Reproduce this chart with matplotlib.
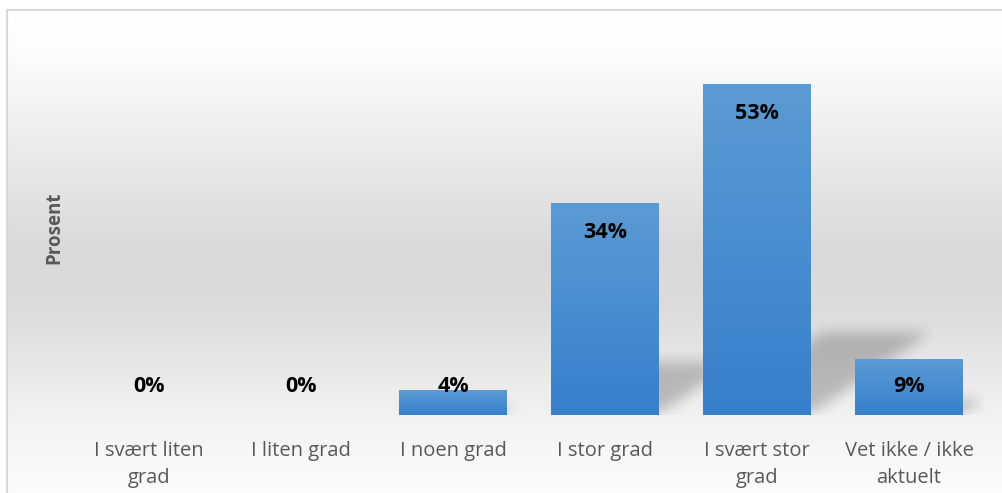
import numpy as np
import matplotlib
matplotlib.use("Agg")
import matplotlib.pyplot as plt
from matplotlib.colors import LinearSegmentedColormap

# survey answers (percent)
categories = ["I svært liten\ngrad", "I liten grad", "I noen grad", "I stor grad",
              "I svært stor\ngrad", "Vet ikke / ikke\naktuelt"]
values = [0, 0, 4, 34, 53, 9]
value_labels = ["0%", "0%", "4%", "34%", "53%", "9%"]

plt.rcParams['font.family'] = ['Open Sans', 'DejaVu Sans']

fig = plt.figure(figsize=(10.02, 4.93), dpi=100)
fig.patch.set_facecolor("white")

# chart background: white -> gray -> white gradient, with a light border
W, H = 1002, 493
bg = fig.add_axes([7 / W, 0, 1 - 7 / W, (H - 10) / H])
bg_cmap = LinearSegmentedColormap.from_list(
    "bg", [(0.0, "#ffffff"), (0.08, "#fdfdfd"), (0.5, "#d9d9d9"),
           (0.62, "#dcdcdc"), (0.85, "#f3f3f3"), (1.0, "#fcfcfc")])
grad = np.linspace(0, 1, 256).reshape(-1, 1)
bg.imshow(grad, aspect="auto", cmap=bg_cmap, extent=[0, 1, 0, 1], origin="upper")
bg.set_xlim(0, 1)
bg.set_ylim(0, 1)
bg.set_xticks([])
bg.set_yticks([])
for side in ["right", "bottom"]:
    bg.spines[side].set_visible(False)
for side in ["left", "top"]:
    bg.spines[side].set_color("#d9d9d9")
    bg.spines[side].set_linewidth(1.5)

ax = fig.add_axes([73 / W, 78 / H, 912 / W, 375 / H])
ax.patch.set_alpha(0)
ymax = 60
ax.set_xlim(-0.5, len(values) - 0.5)
ax.set_ylim(0, ymax)

x = np.arange(len(values))
bw = 0.71

# soft perspective shadows behind the bars
nx, ny = 912, 375
gx = np.linspace(-0.5, len(values) - 0.5, nx)
gy = np.linspace(0, ymax, ny)
GX, GY = np.meshgrid(gx, gy)
mask = np.zeros_like(GX)
px_x = 1 / 152.0
px_y = ymax / 375.0
for xi, v in zip(x, values):
    if v <= 0:
        continue
    sh = 0.25 * v
    shift = 1.45 * (GY / px_y) * px_x
    inside = (GY <= sh) & (GX >= xi - bw / 2 + shift) & (GX <= xi + bw / 2 + shift)
    mask[inside] = 1.0


def box_blur(a, r):
    k = np.ones(2 * r + 1) / (2 * r + 1)
    a = np.apply_along_axis(lambda m: np.convolve(m, k, mode="same"), 0, a)
    a = np.apply_along_axis(lambda m: np.convolve(m, k, mode="same"), 1, a)
    return a


mask = box_blur(box_blur(box_blur(mask, 6), 6), 6)
rgba = np.zeros((ny, nx, 4))
rgba[..., 3] = mask * 0.22
ax.imshow(rgba, extent=[-0.5, len(values) - 0.5, 0, ymax], origin="lower",
          aspect="auto", zorder=1)

# bars with vertical gradient
bars = ax.bar(x, values, width=bw, color="#4a8fd2", zorder=2)
bar_cmap = LinearSegmentedColormap.from_list("bar", ["#3680cb", "#5b9bd5"])
for b in bars:
    if b.get_height() <= 0:
        continue
    x0, y0 = b.get_x(), b.get_y()
    im = ax.imshow(np.linspace(0, 1, 100).reshape(-1, 1), cmap=bar_cmap, aspect="auto",
                   origin="lower", extent=[x0, x0 + b.get_width(), y0, y0 + b.get_height()],
                   zorder=3)
    im.set_clip_path(b)

# data labels, inside end (clamped near the base for small bars)
for xi, v, lab in zip(x, values, value_labels):
    ly = max(v - 30 * px_y, 28 * px_y)
    ax.text(xi, ly, lab, ha="center", va="center", fontsize=15.5,
            fontweight="bold", color="black", zorder=4)

ax.set_xlim(-0.5, len(values) - 0.5)
ax.set_ylim(0, ymax)
ax.set_yticks([])
ax.set_xticks(x)
ax.set_xticklabels(categories, fontsize=14.5, color="#595959", linespacing=1.45)
ax.tick_params(axis="x", length=0, pad=19)
for s in ax.spines.values():
    s.set_visible(False)

ax.set_ylabel("Prosent", fontsize=13.5, fontweight="bold", color="#595959", labelpad=6)

fig.savefig("out.png", dpi=100)
